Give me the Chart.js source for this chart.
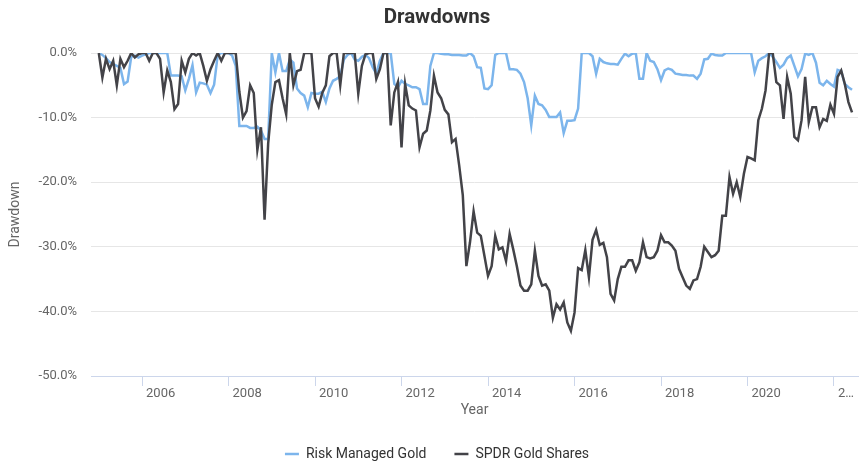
<!DOCTYPE html>
<html>
<head>
<meta charset="utf-8">
<script src="https://cdn.jsdelivr.net/npm/chart.js@4.4.1/dist/chart.umd.min.js"></script>
<style>
html,body{margin:0;padding:0;background:#ffffff;}
#wrap{width:864px;height:461px;position:relative;}
</style>
</head>
<body>
<div id="wrap"><canvas id="c" width="864" height="461"></canvas></div>
<script>
// ---- data (monthly drawdowns, %) ----
const startYear = 2005;           // first monthly observation (Jan 2005)
const tickYears = [2006, 2008, 2010, 2012, 2014, 2016, 2018, 2020, 2022];
const tickLabels = ['2006', '2008', '2010', '2012', '2014', '2016', '2018', '2020', '2…'];
const seriesNames = ['Risk Managed Gold', 'SPDR Gold Shares'];

const riskManagedGold = [
  0, -0.3, -0.8, -1.4, -1.7, -2.0, -2.3, -4.8, -4.4, -0.6,
  -0.4, -0.7, -0.4, -0.2, 0, 0, 0, 0, 0, 0,
  -3.5, -3.5, -3.5, -3.6, -5.8, -4.0, -1.9, -6.1, -4.6, -4.7,
  -4.9, -6.2, -4.9, -0.3, 0, 0, 0, -0.4, -2.0, -11.3,
  -11.3, -11.3, -11.6, -11.6, -11.4, -12.0, -13.3, -13.3, 0, -3.0,
  0, -2.8, -2.8, -1.0, -1.5, -5.5, -6.2, -6.6, -8.4, -6.2,
  -6.3, -6.3, -6.0, -7.6, -5.5, -4.3, -4.0, -3.6, -1.0, -0.3,
  0, -1.0, -1.2, -0.6, -0.3, -0.8, -2.2, -3.2, -1.2, 0,
  0, 0, -4.8, -5.3, -4.3, -4.8, -5.0, -5.3, -5.3, -5.6,
  -7.9, -7.9, -2.0, 0, 0, -0.1, -0.2, -0.2, -0.3, -0.3,
  -0.3, -0.4, -0.4, 0, -0.5, -2.2, -2.3, -5.5, -5.6, -5.0,
  -0.3, 0, 0, 0, -2.5, -2.5, -2.6, -3.2, -4.5, -7.0,
  -11.2, -6.6, -7.9, -8.1, -8.8, -9.9, -9.9, -9.9, -9.2, -12.4,
  -10.5, -10.5, -10.4, -8.6, 0, 0, 0, -0.5, -3.2, -0.9,
  -1.4, -1.6, -1.7, -1.7, -1.8, -0.9, -0.1, -0.5, -0.1, 0,
  -4.0, -4.0, 0, -1.2, -1.4, -2.5, -4.2, -2.7, -2.4, -2.6,
  -3.2, -3.3, -3.4, -3.4, -3.5, -3.5, -4.0, -3.2, -1.0, -0.9,
  -0.1, -0.3, -0.4, -0.4, 0, 0, 0, 0, 0, 0,
  0, 0, -3.0, -1.2, -0.8, -0.5, 0, -0.6, -1.4, -2.3,
  -1.8, -0.8, -0.4, -2.0, -3.6, -2.5, -0.1, -0.3, 0, -1.5,
  -4.6, -5.0, -4.3, -4.8, -5.2, -2.6, -2.8, -4.8, -5.3, -5.7
];

const spdrGoldShares = [
  0, -3.8, -0.9, -2.5, -1.2, -5.0, -0.9, -2.2, -1.2, 0,
  -0.7, -0.2, 0, 0, -1.2, 0, 0, -0.9, -6.1, -2.7,
  -4.5, -8.7, -7.9, -1.2, -3.0, -0.9, 0, -0.4, 0, -2.0,
  -4.3, -2.5, -1.2, 0, -1.2, 0, 0, 0, 0, -6.0,
  -10.0, -9.0, -5.0, -6.2, -15.0, -11.5, -25.8, -14.0, -8.0, -4.5,
  -4.2, -7.0, -9.5, 0, -5.0, -2.8, -2.6, 0, 0, 0,
  -7.0, -8.3, -6.2, -5.0, -0.5, 0, 0, -5.0, 0, 0,
  0, 0, -6.3, -2.0, -0.2, 0, 0, -4.0, -2.5, 0,
  0, -11.2, -6.1, -4.5, -14.6, -4.8, -8.1, -8.6, -8.9, -14.6,
  -12.5, -12.0, -8.9, -3.5, -6.1, -7.0, -8.8, -9.5, -13.8, -13.3,
  -17.4, -22.0, -33.0, -29.3, -24.5, -27.8, -28.3, -31.4, -34.5, -33.0,
  -28.3, -30.4, -30.1, -32.2, -28.0, -30.4, -33.0, -36.0, -36.8, -36.8,
  -35.8, -30.6, -34.5, -36.0, -35.8, -36.8, -41.0, -38.9, -39.7, -38.6,
  -41.7, -43.0, -40.2, -33.3, -33.6, -30.5, -34.7, -28.9, -27.4, -29.7,
  -29.4, -31.6, -37.3, -38.3, -35.0, -33.1, -33.1, -32.1, -32.1, -33.7,
  -32.4, -29.3, -31.6, -31.8, -31.6, -30.6, -28.2, -29.3, -29.3, -29.8,
  -30.6, -33.4, -34.7, -36.0, -36.5, -35.2, -35.0, -33.1, -30.0, -30.8,
  -31.6, -31.3, -30.6, -25.2, -25.2, -19.2, -21.8, -20.0, -22.3, -18.7,
  -16.1, -16.3, -16.6, -10.4, -8.6, -5.8, 0, 0, -4.5, -5.0,
  -10.2, -3.7, -6.3, -13.0, -13.5, -10.4, -3.7, -10.7, -8.4, -8.4,
  -11.5, -10.2, -10.5, -8.0, -9.4, -3.7, -2.7, -4.8, -7.6, -9.2
];

// month positions (decimal years), one per observation
const monthTimes = spdrGoldShares.map((_, i) => startYear + i / 12);

const FONT = 'Roboto, "Noto Sans", "DejaVu Sans", sans-serif';

new Chart(document.getElementById('c'), {
  type: 'line',
  data: {
    datasets: [
      {
        label: seriesNames[0],
        data: riskManagedGold.map((v, i) => ({ x: monthTimes[i], y: v })),
        borderColor: '#7cb5ec',
        backgroundColor: '#7cb5ec',
        borderWidth: 2.5,
        pointRadius: 0,
        tension: 0,
        order: 2
      },
      {
        label: seriesNames[1],
        data: spdrGoldShares.map((v, i) => ({ x: monthTimes[i], y: v })),
        borderColor: '#434348',
        backgroundColor: '#434348',
        borderWidth: 2.5,
        pointRadius: 0,
        tension: 0,
        order: 1
      }
    ]
  },
  options: {
    responsive: false,
    devicePixelRatio: 1,
    animation: false,
    layout: { padding: { left: 16, right: 6, top: 0, bottom: -10 } },
    plugins: {
      title: {
        display: true,
        text: 'Drawdowns',
        color: '#333333',
        font: { family: FONT, size: 20.5, weight: 'bold' },
        padding: { top: 6, bottom: 22.4 }
      },
      legend: {
        display: true,
        position: 'bottom',
        labels: {
          color: '#333333',
          font: { family: FONT, size: 14 },
          usePointStyle: true,
          pointStyle: 'line',
          pointStyleWidth: 14,
          padding: 28,
          sort: (a, b) => a.datasetIndex - b.datasetIndex
        }
      },
      tooltip: { enabled: false }
    },
    scales: {
      x: {
        type: 'linear',
        min: 2004.82,
        max: 2022.555,
        afterBuildTicks: (scale) => { scale.ticks = tickYears.map(v => ({ value: v })); },
        afterFit: (scale) => { scale.height = 43; },
        ticks: {
          align: 'start',
          labelOffset: 4,
          padding: 0,
          maxRotation: 0,
          autoSkip: false,
          color: '#666666',
          font: { family: FONT, size: 13 },
          callback: (value, index) => tickLabels[index]
        },
        grid: {
          display: true,
          drawOnChartArea: false,
          drawTicks: true,
          tickLength: 10,
          color: '#ccd6eb'
        },
        border: { display: true, color: '#ccd6eb', width: 1 },
        title: {
          display: true,
          text: 'Year',
          color: '#666666',
          font: { family: FONT, size: 14 },
          padding: { top: 0, bottom: 0.6 }
        }
      },
      y: {
        min: -50,
        max: 0,
        afterFit: (scale) => { scale.width = 75; },
        ticks: {
          stepSize: 10,
          padding: 14,
          color: '#666666',
          font: { family: FONT, size: 13 },
          callback: (v) => v.toFixed(1) + '%'
        },
        grid: { color: '#e6e6e6', drawTicks: false },
        border: { display: false },
        title: {
          display: true,
          text: 'Drawdown',
          color: '#666666',
          font: { family: FONT, size: 14 },
          padding: { top: -9.4, bottom: 0 }
        }
      }
    }
  }
});
</script>
</body>
</html>
